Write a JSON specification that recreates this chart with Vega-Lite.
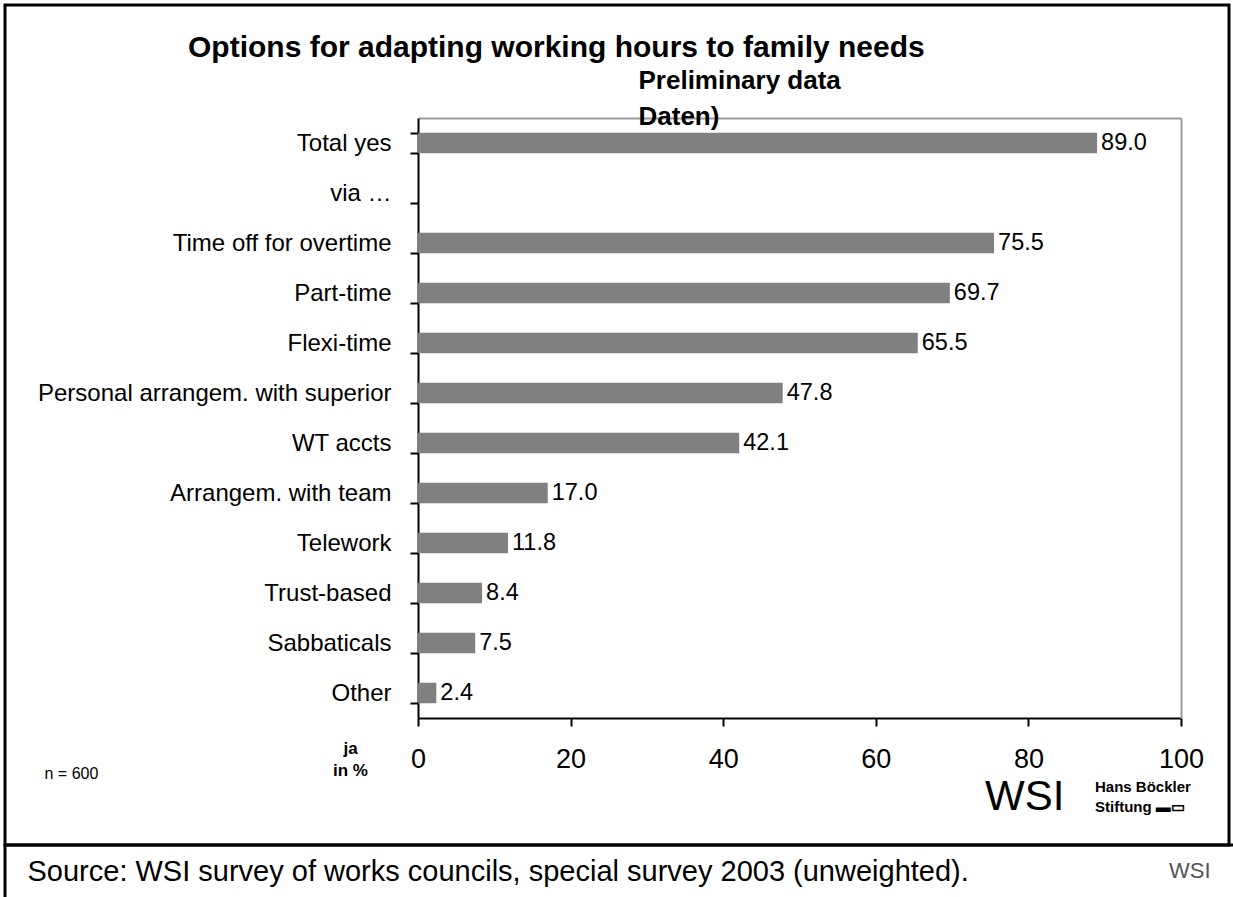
{
  "$schema": "https://vega.github.io/schema/vega-lite/v6.json",
  "width": 1224,
  "height": 840,
  "autosize": {"type": "none"},
  "padding": {"left": 5, "top": 5, "right": 4, "bottom": 52},
  "background": "white",
  "config": {
    "view": {"stroke": "black", "strokeWidth": 3},
    "font": "Liberation Sans, Arial, sans-serif"
  },
  "title": {
    "text": "Options for adapting working hours to family needs",
    "anchor": "start",
    "frame": "group",
    "dx": 183,
    "dy": 94,
    "offset": 0,
    "baseline": "alphabetic",
    "fontSize": 30,
    "fontWeight": "bold",
    "color": "black"
  },
  "data": {
    "values": [
      {"option": "Total yes", "value": 89.0},
      {"option": "via …", "value": null},
      {"option": "Time off for overtime", "value": 75.5},
      {"option": "Part-time", "value": 69.7},
      {"option": "Flexi-time", "value": 65.5},
      {"option": "Personal arrangem. with superior", "value": 47.8},
      {"option": "WT accts", "value": 42.1},
      {"option": "Arrangem. with team", "value": 17.0},
      {"option": "Telework", "value": 11.8},
      {"option": "Trust-based", "value": 8.4},
      {"option": "Sabbaticals", "value": 7.5},
      {"option": "Other", "value": 2.4}
    ]
  },
  "layer": [
    {
      "mark": {"type": "bar", "color": "#808080"},
      "encoding": {
        "y": {
          "field": "option",
          "type": "nominal",
          "sort": null,
          "scale": {
            "domain": ["Total yes", "via …", "Time off for overtime", "Part-time", "Flexi-time", "Personal arrangem. with superior", "WT accts", "Arrangem. with team", "Telework", "Trust-based", "Sabbaticals", "Other"],
            "range": [113, 713],
            "paddingInner": 0.59,
            "paddingOuter": 0.295
          },
          "axis": {
            "orient": "left",
            "offset": -413,
            "grid": false,
            "tickBand": "extent",
            "tickSize": 8,
            "tickWidth": 2,
            "tickColor": "black",
            "domainColor": "black",
            "domainWidth": 2,
            "labelFontSize": 24,
            "labelColor": "black",
            "labelPadding": 19,
            "labelLimit": 0,
            "title": "n = 600",
            "titleAngle": 0,
            "titleX": -374,
            "titleY": 768,
            "titleAlign": "left",
            "titleBaseline": "middle",
            "titleFontSize": 16,
            "titleFontWeight": "normal",
            "titleColor": "black"
          }
        },
        "x": {
          "field": "value",
          "type": "quantitative",
          "scale": {"domain": [0, 100], "range": [413, 1176]},
          "axis": {
            "orient": "bottom",
            "offset": -127,
            "grid": false,
            "values": [0, 20, 40, 60, 80, 100],
            "tickSize": 8,
            "tickWidth": 2,
            "tickColor": "black",
            "domainColor": "black",
            "domainWidth": 2,
            "labelFontSize": 27,
            "labelColor": "black",
            "labelPadding": 20,
            "labelFlush": false,
            "labelOverlap": false,
            "title": ["ja", "in %"],
            "titleX": 345,
            "titleY": 22,
            "titleAlign": "center",
            "titleBaseline": "top",
            "titleFontSize": 17,
            "titleFontWeight": "bold",
            "titleColor": "black",
            "titleLineHeight": 22
          }
        }
      }
    },
    {
      "transform": [{"filter": "datum.value != null"}],
      "mark": {"type": "text", "align": "left", "baseline": "middle", "dx": 4, "fontSize": 23.5, "color": "black"},
      "encoding": {
        "y": {
          "field": "option",
          "type": "nominal",
          "sort": null,
          "scale": {
            "domain": ["Total yes", "via …", "Time off for overtime", "Part-time", "Flexi-time", "Personal arrangem. with superior", "WT accts", "Arrangem. with team", "Telework", "Trust-based", "Sabbaticals", "Other"],
            "range": [113, 713],
            "paddingInner": 0.59,
            "paddingOuter": 0.295
          },
          "axis": {
            "orient": "right",
            "offset": -48,
            "grid": false,
            "labels": false,
            "ticks": false,
            "domainColor": "#999999",
            "domainWidth": 2,
            "title": "Source: WSI survey of works councils, special survey 2003 (unweighted).",
            "titleAngle": 0,
            "titleX": -1154,
            "titleY": 875,
            "titleAlign": "left",
            "titleBaseline": "alphabetic",
            "titleFontSize": 29,
            "titleFontWeight": "normal",
            "titleColor": "black"
          }
        },
        "x": {
          "field": "value",
          "type": "quantitative",
          "scale": {"domain": [0, 100], "range": [413, 1176]},
          "axis": {
            "orient": "top",
            "offset": -113,
            "grid": false,
            "labels": false,
            "ticks": false,
            "domainColor": "#999999",
            "domainWidth": 2,
            "title": ["Preliminary data", "Daten)"],
            "titleX": 633,
            "titleY": -30,
            "titleAlign": "left",
            "titleBaseline": "alphabetic",
            "titleFontSize": 26,
            "titleFontWeight": "bold",
            "titleColor": "black",
            "titleLineHeight": 36
          }
        },
        "text": {"field": "value", "type": "quantitative", "format": ".1f"}
      }
    },
    {
      "data": {"values": [{"logo": "Hans Böckler"}, {"logo": "Stiftung ▬▭"}]},
      "mark": {"type": "point", "opacity": 0},
      "encoding": {
        "shape": {
          "field": "logo",
          "type": "nominal",
          "sort": null,
          "legend": {
            "orient": "none",
            "legendX": 980,
            "legendY": 774,
            "padding": 0,
            "title": "WSI",
            "titleOrient": "left",
            "titleAnchor": "middle",
            "titleBaseline": "middle",
            "titleFontSize": 42,
            "titleFontWeight": "normal",
            "titleColor": "black",
            "titlePadding": 15,
            "labelFontSize": 15,
            "labelFontWeight": "bold",
            "labelColor": "black",
            "labelOffset": 0,
            "symbolOpacity": 0,
            "symbolSize": 10,
            "rowPadding": 4
          }
        }
      }
    },
    {
      "data": {"values": [{"mark": "WSI"}]},
      "mark": {"type": "point", "opacity": 0},
      "encoding": {
        "color": {
          "field": "mark",
          "type": "nominal",
          "legend": {
            "orient": "none",
            "legendX": 1142,
            "legendY": 855,
            "padding": 0,
            "title": null,
            "labelFontSize": 22,
            "labelFontWeight": "normal",
            "labelColor": "#555555",
            "labelOffset": 0,
            "symbolOpacity": 0,
            "symbolSize": 1
          }
        }
      }
    },
    {
      "data": {"values": [{"g": 0}, {"g": 1}]},
      "mark": {"type": "point", "opacity": 0},
      "encoding": {
        "stroke": {
          "field": "g",
          "type": "quantitative",
          "scale": {"range": ["rgba(255,255,255,0)", "rgba(255,255,255,0)"]},
          "legend": {
            "orient": "none",
            "legendX": 0,
            "legendY": 840,
            "padding": 0,
            "direction": "horizontal",
            "gradientLength": 1300,
            "gradientThickness": 80,
            "gradientStrokeColor": "black",
            "gradientStrokeWidth": 3,
            "title": null,
            "values": [],
            "labelExpr": "''",
            "labelOpacity": 0
          }
        }
      }
    }
  ],
  "resolve": {"axis": {"x": "independent", "y": "independent"}}
}
